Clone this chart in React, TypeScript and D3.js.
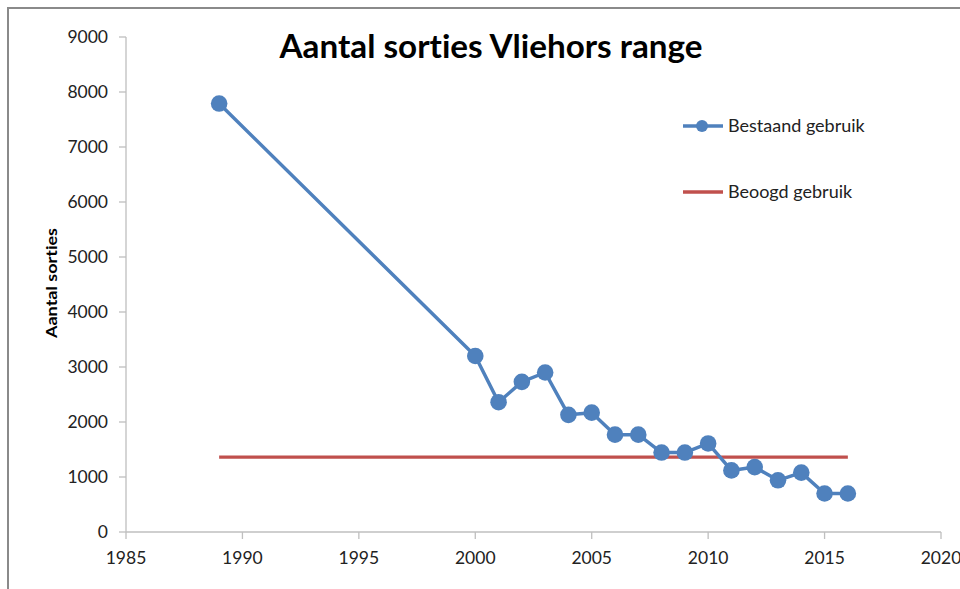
import React from "react";
import * as d3 from "d3";

// values
const years = [1989, 2000, 2001, 2002, 2003, 2004, 2005, 2006, 2007, 2008, 2009, 2010, 2011, 2012, 2013, 2014, 2015, 2016];
const sorties = [7790, 3200, 2360, 2730, 2900, 2130, 2170, 1770, 1770, 1445, 1445, 1610, 1120, 1180, 940, 1080, 700, 700];
const targetYears = [1989, 2016];
const targetValue = 1360;
const xTicks = [1985, 1990, 1995, 2000, 2005, 2010, 2015, 2020];
const yTicks = [0, 1000, 2000, 3000, 4000, 5000, 6000, 7000, 8000, 9000];

const BLUE = "#4F81BD";
const RED = "#C0504D";
const AXIS = "#BFBFBF";
const FONT = "Lato, 'Open Sans', sans-serif";

export default function App() {
  const width = 960;
  const height = 589;
  const margin = { top: 37, right: 19, bottom: 57, left: 126 };

  const x = d3.scaleLinear().domain([1985, 2020]).range([margin.left, width - margin.right]);
  const y = d3.scaleLinear().domain([0, 9000]).range([height - margin.bottom, margin.top]);

  const line = d3
    .line<number>()
    .x((_, i) => x(years[i]))
    .y((d) => y(d));

  const y0 = y(0);

  return (
    <svg
      width={width}
      height={height}
      style={{ position: "absolute", left: 0, top: 0, background: "#fff", fontVariantLigatures: "none" }}
      fontFamily={FONT}
    >
      {/* outer frame */}
      <rect x={8} y={8} width={width + 20} height={height + 20} fill="#fff" stroke="#8a8a8a" strokeWidth={2} />

      <text x={491} y={58} textAnchor="middle" fontSize={32} fontWeight="bold" fill="#000" textLength={423} lengthAdjust="spacingAndGlyphs">
        Aantal sorties Vliehors range
      </text>

      {/* y axis */}
      <line x1={margin.left} x2={margin.left} y1={y(9000)} y2={y0} stroke={AXIS} strokeWidth={1.3} />
      {yTicks.map((t) => (
        <g key={t}>
          <line x1={margin.left - 7} x2={margin.left} y1={y(t)} y2={y(t)} stroke={AXIS} strokeWidth={1.3} />
          <text x={margin.left - 18} y={y(t)} dy="0.36em" textAnchor="end" fontSize={17.5} fill="#222">
            {t}
          </text>
        </g>
      ))}

      {/* x axis */}
      <line x1={x(1985)} x2={x(2020)} y1={y0} y2={y0} stroke={AXIS} strokeWidth={1.3} />
      {xTicks.map((t) => (
        <g key={t}>
          <line x1={x(t)} x2={x(t)} y1={y0} y2={y0 + 7} stroke={AXIS} strokeWidth={1.3} />
          <text x={x(t)} y={y0 + 32} textAnchor="middle" fontSize={17.5} fill="#222">
            {t}
          </text>
        </g>
      ))}

      <text
        transform={`translate(57,283) rotate(-90)`}
        textAnchor="middle"
        fontSize={15.5}
        fontWeight="bold"
        fill="#000"
        textLength={110}
        lengthAdjust="spacingAndGlyphs"
      >
        Aantal sorties
      </text>

      {/* target line */}
      <line
        x1={x(targetYears[0])}
        x2={x(targetYears[1])}
        y1={y(targetValue)}
        y2={y(targetValue)}
        stroke={RED}
        strokeWidth={3.3}
      />

      {/* existing usage */}
      <path d={line(sorties) ?? ""} fill="none" stroke={BLUE} strokeWidth={3.5} strokeLinejoin="round" />
      {sorties.map((v, i) => (
        <circle key={years[i]} cx={x(years[i])} cy={y(v)} r={8.3} fill={BLUE} />
      ))}

      {/* legend */}
      <g>
        <line x1={683} x2={723} y1={126} y2={126} stroke={BLUE} strokeWidth={3.5} />
        <circle cx={702} cy={126} r={6} fill={BLUE} />
        <text x={728} y={126} dy="0.36em" fontSize={18} fill="#222">
          Bestaand gebruik
        </text>
        <line x1={683} x2={723} y1={192} y2={192} stroke={RED} strokeWidth={3.3} />
        <text x={728} y={192} dy="0.36em" fontSize={18} fill="#222">
          Beoogd gebruik
        </text>
      </g>
    </svg>
  );
}
